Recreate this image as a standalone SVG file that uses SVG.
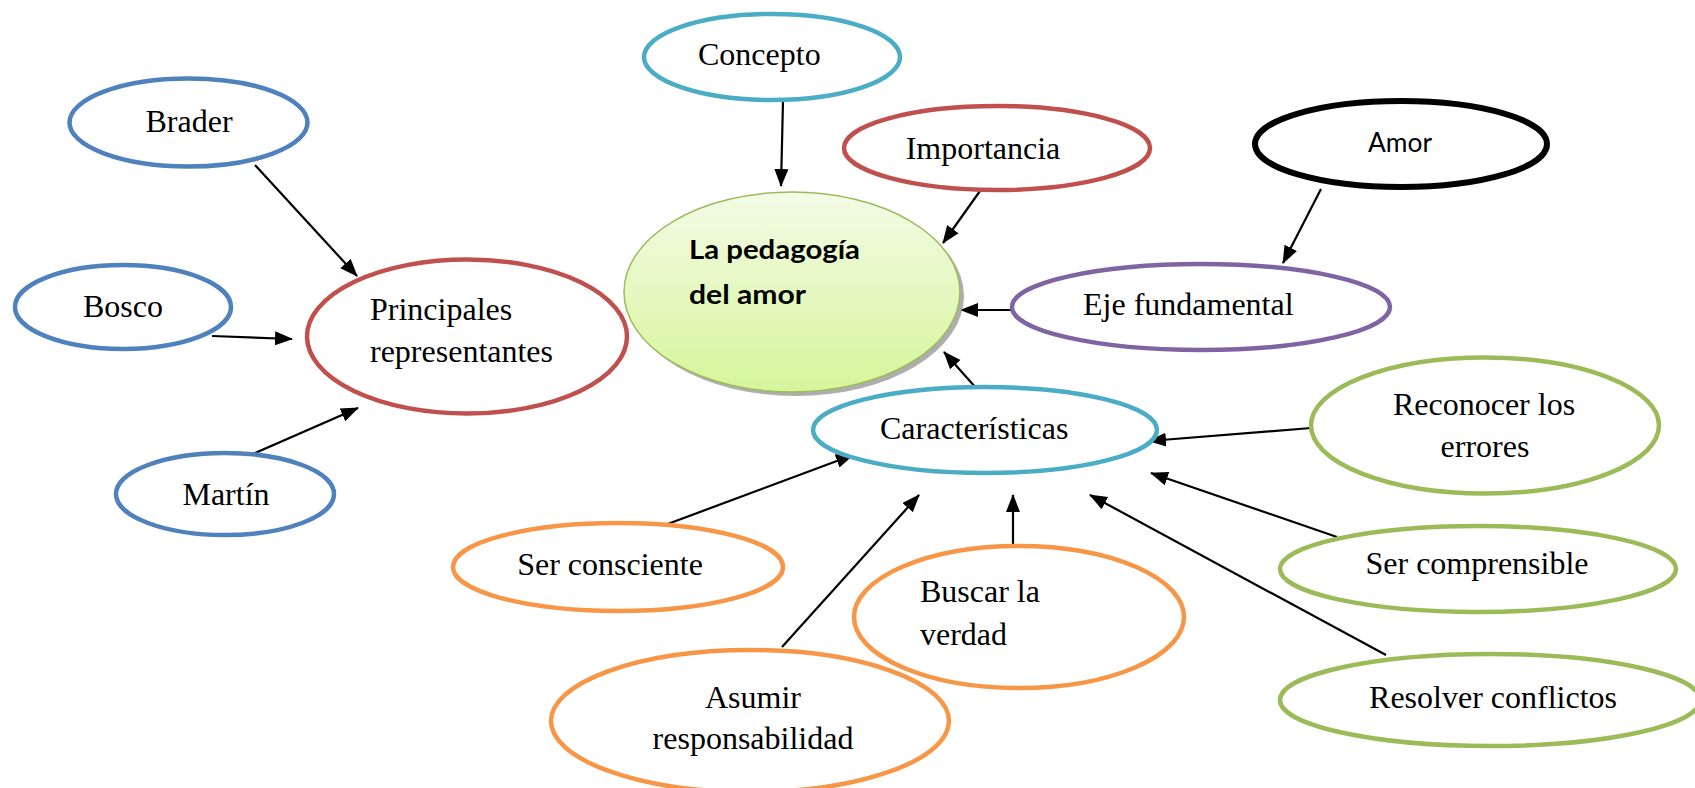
<svg xmlns="http://www.w3.org/2000/svg" width="1695" height="788" viewBox="0 0 1695 788">
<defs>
<linearGradient id="gc" x1="0" y1="0" x2="0" y2="1">
<stop offset="0" stop-color="#f3fbe6"/>
<stop offset="1" stop-color="#d6f59a"/>
</linearGradient>
<marker id="ah" markerUnits="userSpaceOnUse" markerWidth="18" markerHeight="16" viewBox="0 0 18 16" refX="17" refY="8" orient="auto">
<path d="M0,1 L18,8 L0,15 Z" fill="#000"/>
</marker>
<style>
.n{fill:#fff;stroke-width:4.5}
.blue{stroke:#4f81bd}.red{stroke:#c0504d}.teal{stroke:#4bacc6}.purple{stroke:#8064a2}.green{stroke:#9bbb59}.orange{stroke:#f79646}.black{stroke:#000;stroke-width:6}
.t{font-family:"Liberation Serif","Times New Roman",serif;font-size:32px;fill:#000}
.c{text-anchor:middle}
.s{font-family:Lato,"Open Sans","Liberation Sans",sans-serif;fill:#000}
#connectors line{stroke:#000;stroke-width:2.2;marker-end:url(#ah)}
</style>
</defs>
<rect width="1695" height="788" fill="#fff"/>

<g id="connectors">
<line x1="783" y1="101" x2="781" y2="186"/>
<line x1="980" y1="191" x2="943" y2="243"/>
<line x1="1321" y1="189" x2="1283" y2="263"/>
<line x1="1012" y1="310" x2="961" y2="310"/>
<line x1="993" y1="407" x2="944" y2="352"/>
<line x1="255" y1="165" x2="357" y2="276"/>
<line x1="212" y1="336" x2="292" y2="339"/>
<line x1="253" y1="454" x2="358" y2="408"/>
<line x1="1311" y1="428" x2="1149" y2="441"/>
<line x1="665" y1="525" x2="853" y2="455"/>
<line x1="782" y1="647" x2="919" y2="495"/>
<line x1="1013" y1="546" x2="1013" y2="495"/>
<line x1="1337" y1="537" x2="1151" y2="473"/>
<line x1="1386" y1="655" x2="1090" y2="495"/>
</g>

<g id="n-central">
<ellipse cx="796" cy="296" rx="168" ry="100" fill="#9a9a9a" opacity="0.8"/>
<ellipse cx="792" cy="292" rx="168" ry="100" fill="url(#gc)" stroke="#9bbb59" stroke-width="1.5"/>
<text class="s" x="689" y="259" font-size="26" font-weight="bold" textLength="171" lengthAdjust="spacingAndGlyphs">La pedagogía</text>
<text class="s" x="689" y="304" font-size="26" font-weight="bold" textLength="117" lengthAdjust="spacingAndGlyphs">del amor</text>
</g>

<g id="n-concepto">
<ellipse class="n teal" cx="772" cy="57" rx="128" ry="43"/>
<text class="t" x="698" y="65">Concepto</text>
</g>

<g id="n-brader">
<ellipse class="n blue" cx="188.5" cy="122.5" rx="119" ry="44"/>
<text class="t c" x="189" y="132">Brader</text>
</g>

<g id="n-bosco">
<ellipse class="n blue" cx="123" cy="307" rx="108" ry="42"/>
<text class="t c" x="123" y="317">Bosco</text>
</g>

<g id="n-martin">
<ellipse class="n blue" cx="225" cy="494" rx="109" ry="41"/>
<text class="t c" x="226" y="505">Martín</text>
</g>

<g id="n-principales">
<ellipse class="n red" cx="467" cy="336.5" rx="160" ry="77"/>
<text class="t" x="370" y="320">Principales</text>
<text class="t" x="370" y="362">representantes</text>
</g>

<g id="n-importancia">
<ellipse class="n red" cx="997" cy="148" rx="153" ry="42"/>
<text class="t c" x="983" y="159">Importancia</text>
</g>

<g id="n-amor">
<ellipse class="n black" cx="1401" cy="144" rx="146" ry="43"/>
<text class="s c" x="1400" y="152" font-size="27" textLength="64" lengthAdjust="spacingAndGlyphs">Amor</text>
</g>

<g id="n-eje">
<ellipse class="n purple" cx="1201" cy="307" rx="189" ry="43"/>
<text class="t" x="1083" y="315">Eje fundamental</text>
</g>

<g id="n-caracteristicas">
<ellipse class="n teal" cx="985" cy="430" rx="172" ry="43"/>
<text class="t" x="880" y="439">Características</text>
</g>

<g id="n-reconocer">
<ellipse class="n green" cx="1485" cy="425.5" rx="174" ry="68"/>
<text class="t c" x="1484" y="415">Reconocer los</text>
<text class="t c" x="1485" y="457">errores</text>
</g>

<g id="n-consciente">
<ellipse class="n orange" cx="618" cy="567" rx="165" ry="44"/>
<text class="t c" x="610" y="575">Ser consciente</text>
</g>

<g id="n-buscar">
<ellipse class="n orange" cx="1019" cy="617" rx="165" ry="71"/>
<text class="t" x="920" y="602">Buscar la</text>
<text class="t" x="920" y="645">verdad</text>
</g>

<g id="n-asumir">
<ellipse class="n orange" cx="750" cy="721" rx="199" ry="71"/>
<text class="t c" x="753" y="708">Asumir</text>
<text class="t c" x="753" y="749">responsabilidad</text>
</g>

<g id="n-comprensible">
<ellipse class="n green" cx="1478" cy="569" rx="198" ry="43"/>
<text class="t c" x="1477" y="574">Ser comprensible</text>
</g>

<g id="n-resolver">
<ellipse class="n green" cx="1490" cy="700" rx="210" ry="46"/>
<text class="t c" x="1493" y="708">Resolver conflictos</text>
</g>
</svg>
